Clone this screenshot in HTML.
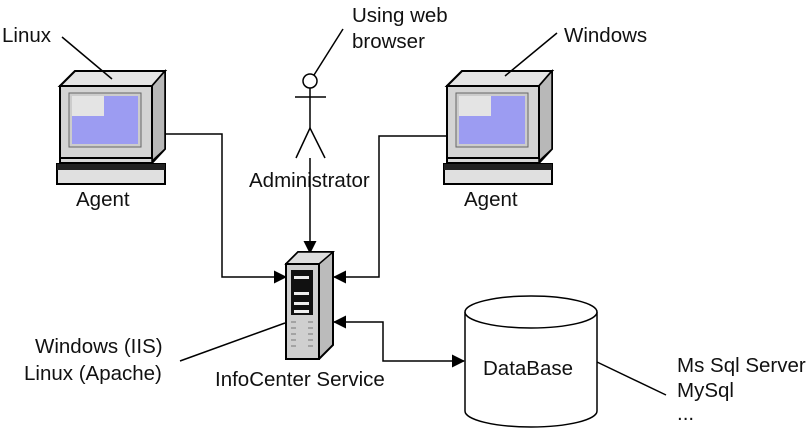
<!DOCTYPE html>
<html><head><style>
body{margin:0;background:#fff;}
svg{display:block;}
text{font-family:"Liberation Sans",sans-serif;font-size:20.5px;fill:#111;}
</style></head><body>
<svg width="812" height="430" viewBox="0 0 812 430">
<defs>
<marker id="ah" markerWidth="13" markerHeight="13" refX="12" refY="6.5" orient="auto-start-reverse" markerUnits="userSpaceOnUse">
<path d="M0,0 L13,6.5 L0,13 z" fill="#000"/></marker>
<g id="pc">
<path d="M0,15 L15,0 L105,0 L105,78 L92,92 L0,92 z" fill="#d8d8d8" stroke="#000" stroke-width="2"/>
<path d="M0,15 L15,0 L105,0 L92,15 z" fill="#e4e4e4" stroke="#000" stroke-width="2"/>
<path d="M92,15 L105,0 L105,78 L92,90 z" fill="#b8b8b8" stroke="#000" stroke-width="1.5"/>
<rect x="0" y="15" width="92" height="72" fill="#d4d4d4" stroke="#000" stroke-width="2"/>
<rect x="9" y="22" width="72" height="54" fill="#ccc" stroke="#666"/>
<rect x="12" y="25" width="66" height="48" fill="#9c9cf2"/>
<rect x="12" y="25" width="32" height="20" fill="#e4e4e4"/>
<rect x="-3" y="93" width="108" height="20" fill="#e0e0e0" stroke="#000" stroke-width="2"/>
<rect x="-3" y="93" width="108" height="6" fill="#222"/>
</g>
</defs>
<use href="#pc" x="60" y="71"/>
<use href="#pc" x="447" y="71"/>
<text x="2" y="42">Linux</text>
<line x1="62" y1="37" x2="112" y2="79" stroke="#000" stroke-width="1.5"/>
<text x="564" y="42">Windows</text>
<line x1="557" y1="33" x2="505" y2="76" stroke="#000" stroke-width="1.5"/>
<text x="76" y="206">Agent</text>
<text x="464" y="206">Agent</text>
<text x="352" y="22">Using web</text>
<text x="352" y="48">browser</text>
<line x1="343" y1="29" x2="314" y2="75" stroke="#000" stroke-width="1.5"/>
<circle cx="310" cy="81" r="7" fill="#fff" stroke="#000" stroke-width="1.5"/>
<line x1="295" y1="97" x2="326" y2="97" stroke="#000" stroke-width="1.5"/>
<line x1="310" y1="88" x2="310" y2="128" stroke="#000" stroke-width="1.5"/>
<path d="M296,158 L310,128 L325,158" fill="none" stroke="#000" stroke-width="1.5"/>
<text x="249" y="187">Administrator</text>
<line x1="310" y1="158" x2="310" y2="253" stroke="#000" stroke-width="1.5" marker-end="url(#ah)"/>
<path d="M165,134 L222,134 L222,277 L286,277" fill="none" stroke="#000" stroke-width="1.5" marker-end="url(#ah)"/>
<path d="M447,136 L379,136 L379,277 L334,277" fill="none" stroke="#000" stroke-width="1.5" marker-end="url(#ah)"/>
<path d="M464,361 L383,361 L383,322 L334,322" fill="none" stroke="#000" stroke-width="1.5" marker-end="url(#ah)" marker-start="url(#ah)"/>
<path d="M286,264 L298,252 L333,252 L333,345 L319,359 L286,359 z" fill="#bbb" stroke="#000" stroke-width="2"/>
<path d="M286,264 L298,252 L333,252 L319,264 z" fill="#ddd" stroke="#000" stroke-width="1.5"/>
<rect x="286" y="264" width="33" height="95" fill="#cfcfcf" stroke="#000" stroke-width="2"/>
<rect x="291" y="270" width="22" height="45" fill="#111"/>
<rect x="294" y="276" width="15" height="3" fill="#eee"/>
<rect x="294" y="292" width="15" height="3" fill="#eee"/>
<rect x="294" y="302" width="15" height="3" fill="#eee"/>
<rect x="294" y="310" width="15" height="3" fill="#eee"/>
<g stroke="#777"><line x1="291" y1="322" x2="296" y2="322"/><line x1="291" y1="328" x2="296" y2="328"/><line x1="291" y1="334" x2="296" y2="334"/><line x1="291" y1="340" x2="296" y2="340"/><line x1="291" y1="346" x2="296" y2="346"/><line x1="308" y1="322" x2="313" y2="322"/><line x1="308" y1="328" x2="313" y2="328"/><line x1="308" y1="334" x2="313" y2="334"/><line x1="308" y1="340" x2="313" y2="340"/><line x1="308" y1="346" x2="313" y2="346"/></g>
<text x="35" y="353">Windows (IIS)</text>
<text x="24" y="380">Linux (Apache)</text>
<line x1="180" y1="361" x2="285" y2="323" stroke="#000" stroke-width="1.5"/>
<text x="215" y="386">InfoCenter Service</text>
<path d="M465,312 L465,411 A66,16 0 0 0 597,411 L597,312" fill="#fff" stroke="#000" stroke-width="1.5"/>
<ellipse cx="531" cy="312" rx="66" ry="16" fill="#fff" stroke="#000" stroke-width="1.5"/>
<text x="483" y="375">DataBase</text>
<line x1="597" y1="362" x2="666" y2="395" stroke="#000" stroke-width="1.5"/>
<text x="677" y="372">Ms Sql Server</text>
<text x="677" y="397">MySql</text>
<text x="677" y="420">...</text>
</svg>
</body></html>
